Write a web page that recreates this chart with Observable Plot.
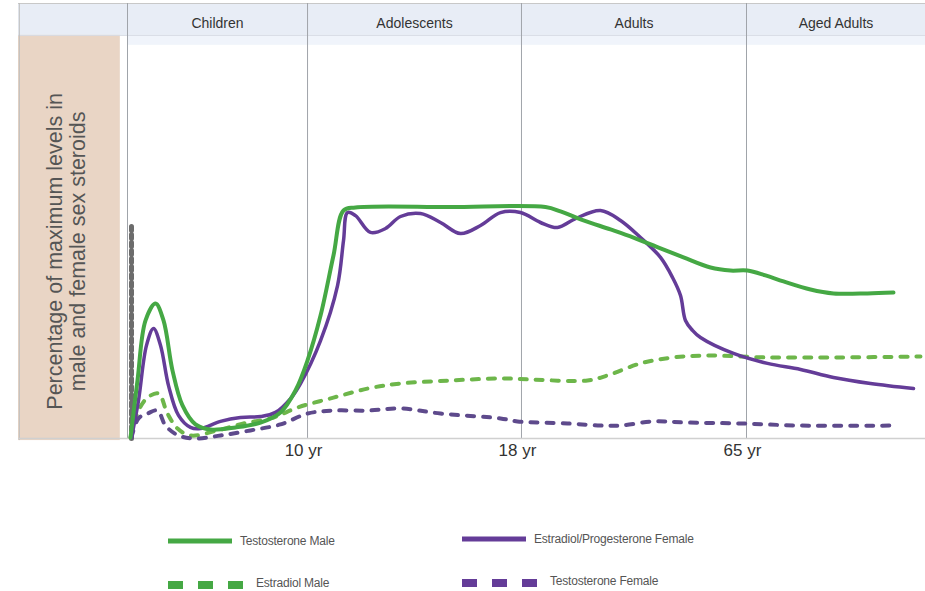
<!DOCTYPE html>
<html>
<head>
<meta charset="utf-8">
<script src="https://cdn.jsdelivr.net/npm/d3@7"></script>
<script src="https://cdn.jsdelivr.net/npm/@observablehq/plot@0.6"></script>
<style>
  html, body { margin: 0; padding: 0; background: #fff; }
  #wrap { position: relative; width: 925px; height: 591px; font-family: "Liberation Sans", Arial, sans-serif; overflow: hidden; }
  #legend { position: absolute; left: 0; top: 480px; width: 925px; height: 111px; }
  .item { position: absolute; display: flex; align-items: center; font-size: 12px; color: #555; letter-spacing: -0.2px; }
  .item svg { margin-right: 8px; }
</style>
</head>
<body>
<div id="wrap">
  <div id="chart"></div>
  <div id="legend"></div>
</div>
<script>
// ---- data (x: position along lifespan, 0–100; y: % of maximum level) ----
const stages = ["Children", "Adolescents", "Adults", "Aged Adults"];
const stageBounds = [0, 22.56, 49.37, 77.57, 100];
const tickPositions = [22.56, 49.37, 77.57];
const tickLabels = ["10 yr", "18 yr", "65 yr"];
const yLabel = "Percentage of maximum levels in\nmale and female sex steroids";

const testosteroneMale = [
  [0.38,0.4],[1.25,25.1],[2.26,51.1],[3.51,58.4],[4.51,51.1],[5.64,29.4],[6.89,14.3],[8.52,6.1],
  [10.4,3.9],[13.53,4.8],[16.67,6.9],[19.17,11.3],[21.05,20.8],[22.56,33.8],[24.19,53.2],[25.81,79.2],
  [27.07,98.7],[28.57,100],[40.48,100.2],[52.38,100.2],[54.26,98.3],[57.14,94.4],[60.53,90.5],
  [63.41,87.0],[66.79,82.3],[69.67,78.4],[73.06,74.0],[75.56,72.7],[77.69,72.7],[79.95,70.6],
  [82.21,68.0],[85.59,64.5],[88.47,62.8],[92.73,62.8],[95.99,63.2]
];
const estradiolProgesteroneFemale = [
  [0.5,0.4],[1.38,16.5],[2.38,40.3],[3.26,47.6],[4.14,40.3],[5.14,22.9],[6.39,10.0],[7.89,4.8],
  [9.15,4.3],[11.65,7.4],[14.16,9.1],[16.67,9.5],[18.55,11.3],[20.43,17.3],[21.68,23.8],[24.19,42.4],
  [26.32,66.2],[27.07,85.7],[27.57,97.8],[28.57,96.5],[30.45,89.2],[32.33,90.9],[34.21,96.1],
  [36.72,97.4],[39.22,93.5],[41.73,88.7],[44.24,92.2],[46.74,97.8],[49.25,97.8],[51.75,93.5],
  [53.88,91.3],[56.14,95.2],[59.27,98.7],[61.78,94.4],[64.29,87.0],[66.79,78.4],[68.3,69.7],
  [69.3,61.9],[69.92,51.1],[70.8,46.8],[71.8,43.7],[75.94,36.8],[80.2,32.5],[84.34,29.9],
  [88.47,26.4],[93.11,23.8],[98.5,21.6]
];
const estradiolMale = [
  [0.38,0.4],[1.38,12.1],[2.51,17.7],[3.88,19.5],[5.01,10.8],[6.27,4.3],[7.89,1.3],[11.28,3.5],
  [14.54,6.5],[18.3,9.1],[21.3,13.4],[25.81,17.7],[30.08,21.6],[34.21,23.8],[40.48,25.1],[46.74,26.0],
  [50.88,25.5],[57.64,25.1],[60.15,27.3],[64.29,32.5],[68.42,35.1],[72.68,35.9],[80.2,35.1],
  [89.35,35.1],[99.37,35.5]
];
const testosteroneFemale = [
  [0.5,0.4],[1.38,8.7],[2.51,10.8],[3.76,12.1],[4.76,5.6],[6.39,1.3],[8.52,0],[11.65,1.3],
  [15.41,3.5],[19.17,6.1],[22.56,10.8],[25.81,12.1],[30.08,12.1],[34.21,13.0],[39.22,10.8],
  [46.74,8.7],[48.87,7.4],[55.14,6.5],[59.27,5.6],[61.78,5.6],[65.91,7.4],[70.18,6.9],[76.82,6.5],
  [84.34,5.6],[95.99,5.6]
];
const birthSpike = [[0.5,0],[0.5,93.5]];

// ---- styling ----
const GREEN = "#45a844", GREEN_D = "#6db64a", PURPLE = "#643c98", PURPLE_D = "#5e4a8c";
const toRows = arr => arr.map(([x, y]) => ({x, y}));
const stageRows = stages.map((s, i) => ({label: s, x1: stageBounds[i], x2: stageBounds[i + 1], mid: (stageBounds[i] + stageBounds[i + 1]) / 2}));

const X0 = -13.66, YTOP = 188.3, HEADER = 174.5;

const plot = Plot.plot({
  width: 925,
  height: 480,
  marginLeft: 18,
  marginRight: 0,
  marginTop: 3,
  marginBottom: 42,
  style: {fontFamily: "'Liberation Sans', Arial, sans-serif", background: "transparent"},
  x: {domain: [X0, 100], axis: null},
  y: {domain: [0, YTOP], axis: null},
  marks: [
    // header band
    Plot.rect([0], {x1: X0, x2: 100, y1: HEADER, y2: YTOP, fill: "#e8edf6"}),
    Plot.rect([0], {x1: 0, x2: 100, y1: HEADER - 4.3, y2: HEADER, fill: "#f0f4fb"}),
    // tan y-label column
    Plot.rect([0], {x1: X0, x2: -0.9, y1: -0.9, y2: HEADER, fill: "#e9d5c5"}),
    Plot.ruleY([YTOP], {x1: X0, x2: 100, stroke: "#c8c8c8"}),
    Plot.ruleY([HEADER], {x1: X0, x2: 100, stroke: "#d6dbe4"}),
    Plot.ruleX([X0 + 0.1], {y1: -0.9, y2: YTOP, stroke: "#bdbdbd"}),
    // stage dividers
    Plot.ruleX(stageBounds.slice(0, 4), {y1: 0, y2: YTOP, stroke: "#a0a4aa", strokeWidth: 1}),
    // baseline
    Plot.ruleY([0], {x1: X0, x2: 100, stroke: "#d0d0d0", strokeWidth: 1.5}),
    // stage labels
    Plot.text(stageRows, {x: "mid", y: 179.8, text: "label", fontSize: 14, fill: "#333"}),
    // y label
    Plot.text([yLabel], {x: -7.7, y: 81, text: d => d, rotate: -90, fontSize: 21.5, lineHeight: 1.05, fill: "#555"}),
    // x axis
    Plot.axisX(tickPositions, {tickSize: 0, tickPadding: 5, fontSize: 17, fill: "#333", dx: -4,
      tickFormat: (d) => tickLabels[tickPositions.indexOf(d)]}),
    // curves
    Plot.line(toRows(birthSpike), {x: "x", y: "y", stroke: "#6c6c6c", strokeWidth: 5, strokeDasharray: "4 4"}),
    Plot.line(toRows(estradiolMale), {x: "x", y: "y", stroke: GREEN_D, strokeWidth: 4, strokeDasharray: "7 9", curve: "catmull-rom"}),
    Plot.line(toRows(testosteroneFemale), {x: "x", y: "y", stroke: PURPLE_D, strokeWidth: 4, strokeDasharray: "7 9", curve: "catmull-rom"}),
    Plot.line(toRows(estradiolProgesteroneFemale), {x: "x", y: "y", stroke: PURPLE, strokeWidth: 3.5, curve: "catmull-rom"}),
    Plot.line(toRows(testosteroneMale), {x: "x", y: "y", stroke: GREEN, strokeWidth: 4, curve: "catmull-rom"})
  ]
});
document.getElementById("chart").appendChild(plot);

// ---- legend ----
const legendItems = [
  {label: "Testosterone Male", color: GREEN, dashed: false, left: 168, top: 61},
  {label: "Estradiol/Progesterone Female", color: PURPLE, dashed: false, left: 462, top: 59},
  {label: "Estradiol Male", color: GREEN, dashed: true, left: 168, top: 103},
  {label: "Testosterone Female", color: PURPLE, dashed: true, left: 462, top: 101}
];
const legend = document.getElementById("legend");
for (const it of legendItems) {
  const div = document.createElement("div");
  div.className = "item";
  div.style.left = it.left + "px";
  div.style.top = (it.top - 8) + "px";
  div.style.height = "16px";
  const sw = it.dashed
    ? `<svg width="80" height="16"><line x1="0" x2="80" y1="10" y2="10" stroke="${it.color}" stroke-width="8" stroke-dasharray="15 15"/></svg>`
    : `<svg width="64" height="16"><line x1="0" x2="64" y1="8" y2="8" stroke="${it.color}" stroke-width="5"/></svg>`;
  div.innerHTML = sw + `<span>${it.label}</span>`;
  legend.appendChild(div);
}
</script>
</body>
</html>
